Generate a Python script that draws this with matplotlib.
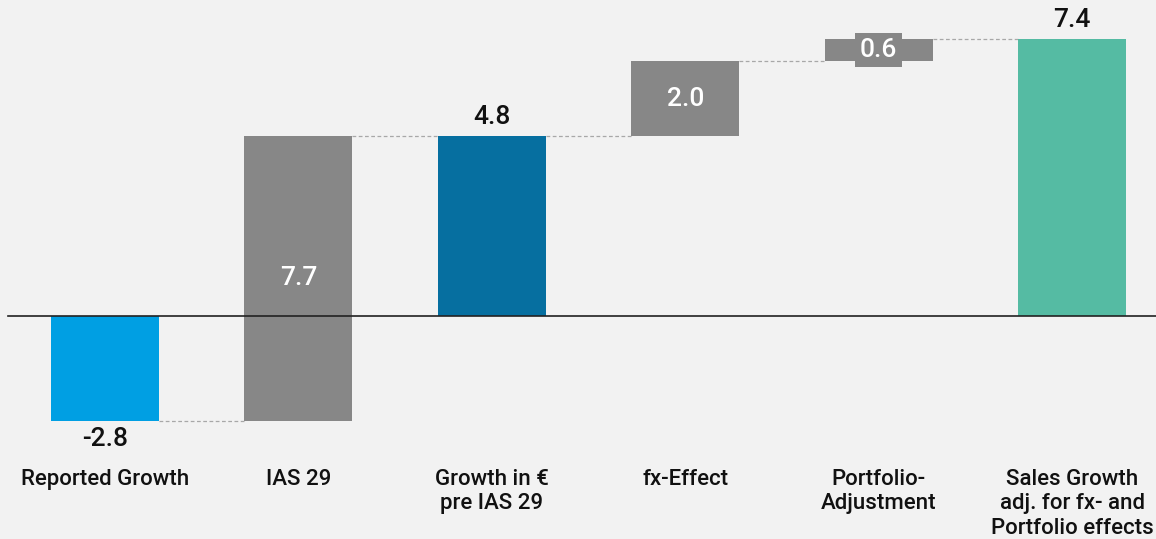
import matplotlib.pyplot as plt

categories = ["Reported Growth", "IAS 29", "Growth in €\npre IAS 29", "fx-Effect",
              "Portfolio-\nAdjustment", "Sales Growth\nadj. for fx- and\nPortfolio effects"]
values = [-2.8, 7.7, 4.8, 2.0, 0.6, 7.4]
is_total = [True, False, True, False, False, True]
colors = ["#009fe3", "#878787", "#066fa0", "#878787", "#878787", "#55bba3"]

BG = "#f2f2f2"
plt.rcParams["font.family"] = ["Roboto", "DejaVu Sans"]

fig = plt.figure(figsize=(11.56, 5.39), dpi=100, facecolor=BG)
ax = fig.add_axes([0, 0, 1, 1])
ax.set_facecolor(BG)

width = 0.558
running = 0.0
bottoms, tops = [], []
for i, (v, tot) in enumerate(zip(values, is_total)):
    if tot:
        b, t = 0.0, v
    else:
        b = running
        # rounded step: close onto the following subtotal if there is one
        t = values[i + 1] if i + 1 < len(values) and is_total[i + 1] else running + v
    running = t
    bottoms.append(b)
    tops.append(t)
    ax.bar(i, t - b, width, bottom=b, color=colors[i], zorder=2)

# connector lines
for i in range(len(values) - 1):
    level = tops[i]
    ax.plot([i + width / 2, i + 1 - width / 2], [level, level], ls=(0, (3, 2)),
            color="#a8a8a8", lw=0.9, zorder=1)

# value labels
lab = dict(ha="center", va="center", fontsize=19, fontweight="medium")
for i, (v, tot) in enumerate(zip(values, is_total)):
    if tot:
        y = tops[i] + 0.5 if v >= 0 else v - 0.47
        ax.text(i, y, f"{v:.1f}", color="#111111", **lab)
    else:
        mid = (bottoms[i] + tops[i]) / 2
        if abs(v) < 1:
            ax.text(i, mid, f"{v:.1f}", color="white",
                    bbox=dict(boxstyle="square,pad=0.18", fc="#878787", ec="none"), **lab)
        else:
            ax.text(i, mid, f"{v:.1f}", color="white", **lab)

# category labels
for i, c in enumerate(categories):
    ax.text(i, -4.07, c, ha="center", va="top", fontsize=16, fontweight="medium",
            color="#111111", linespacing=1.22)

ax.axhline(0, xmin=8 / 1156, color="#222222", lw=1.2, zorder=3)
ax.set_xlim(-0.543, 5.434)
ax.set_ylim(-5.95, 8.43)
ax.axis("off")

fig.savefig("out.png", dpi=100, facecolor=BG)
